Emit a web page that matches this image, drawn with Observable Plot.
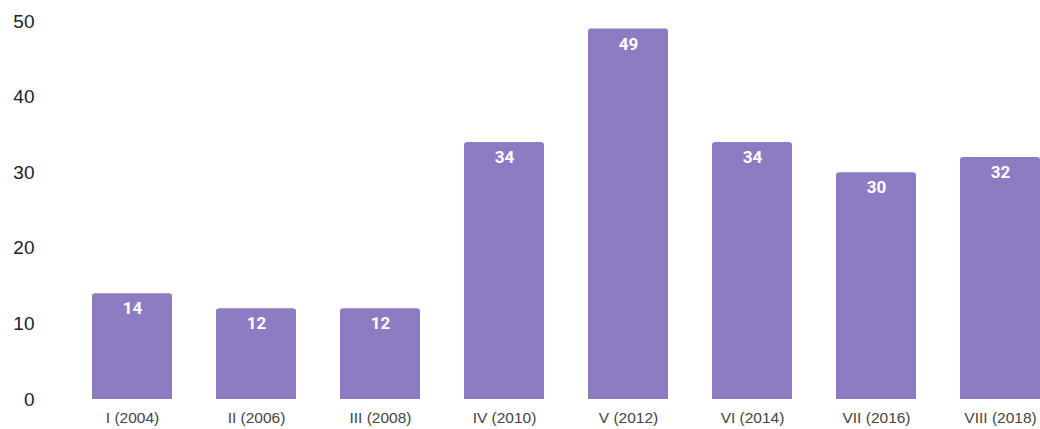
<!DOCTYPE html>
<html>
<head>
<meta charset="utf-8">
<script src="https://cdn.jsdelivr.net/npm/d3@7"></script>
<script src="https://cdn.jsdelivr.net/npm/@observablehq/plot@0.6"></script>
<style>
html,body{margin:0;padding:0;background:#fff;overflow:hidden;}
svg{display:block;}
</style>
</head>
<body>
<div id="chart"></div>
<script>
const categories = ["I (2004)", "II (2006)", "III (2008)", "IV (2010)", "V (2012)", "VI (2014)", "VII (2016)", "VIII (2018)"];
const values = [14, 12, 12, 34, 49, 34, 30, 32];
const yTicks = [0, 10, 20, 30, 40, 50];

const data = categories.map((c, i) => ({category: c, value: values[i]}));

const chart = Plot.plot({
  width: 1040,
  height: 429,
  marginLeft: 68,
  marginRight: -23,
  marginTop: 21,
  marginBottom: 30,
  style: {fontFamily: "'Liberation Sans', Arial, sans-serif", background: "#fff"},
  x: {domain: categories, paddingInner: 0.356, paddingOuter: 0.178, label: null},
  y: {domain: [0, 50], label: null},
  marks: [
    Plot.axisY({ticks: yTicks, tickSize: 0, tickPadding: 34, fontSize: 19, fill: "#222", label: null}),
    Plot.axisX({tickSize: 0, tickPadding: 12, fontSize: 15.5, fill: "#444", label: null}),
    Plot.barY(data, {x: "category", y: "value", fill: "#8e7cc3", ry1: 3}),
    Plot.text(data, {x: "category", y: "value", text: d => String(d.value), fill: "white", fontWeight: "bold", fontSize: 17, fontFamily: "Roboto, 'Liberation Sans', sans-serif", dy: 15})
  ]
});
document.getElementById("chart").appendChild(chart);
</script>
</body>
</html>
